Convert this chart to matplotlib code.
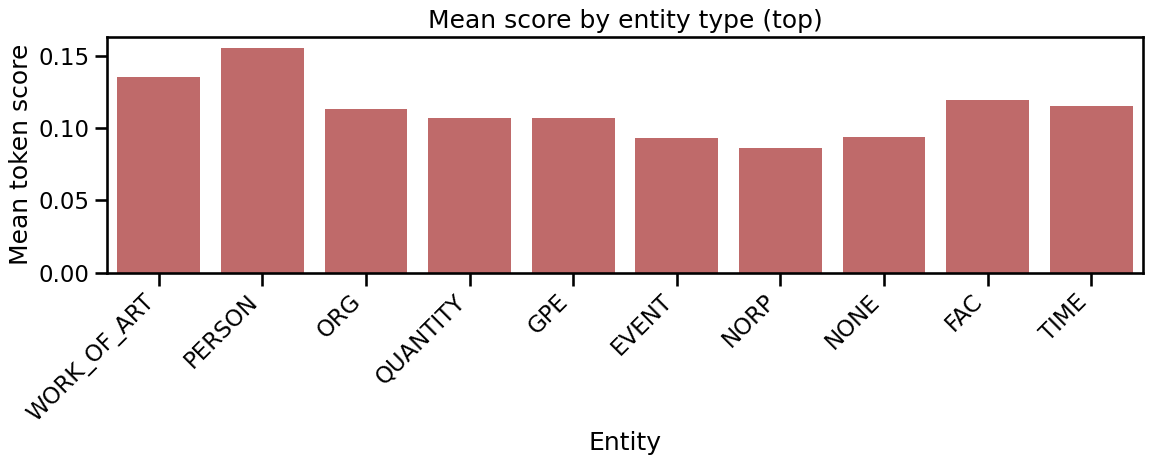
import matplotlib
matplotlib.use("Agg")
import matplotlib.pyplot as plt
import seaborn as sns
import pandas as pd

entities = ["WORK_OF_ART", "PERSON", "ORG", "QUANTITY", "GPE", "EVENT", "NORP", "NONE", "FAC", "TIME"]
scores = [0.1353, 0.1556, 0.1137, 0.1068, 0.1074, 0.0936, 0.0866, 0.0943, 0.1193, 0.1151]

sns.set_context("talk")
fig, ax = plt.subplots(figsize=(11.51, 4.66), dpi=100)
df = pd.DataFrame({"Entity": entities, "score": scores})
sns.barplot(data=df, x="Entity", y="score", color="indianred", ax=ax)
ax.set_title("Mean score by entity type (top)")
ax.set_xlabel("Entity")
ax.set_ylabel("Mean token score")
plt.setp(ax.get_xticklabels(), rotation=45, ha="right")
fig.subplots_adjust(left=0.093, right=0.993, top=0.921, bottom=0.415)
fig.savefig("out.png", dpi=100)
